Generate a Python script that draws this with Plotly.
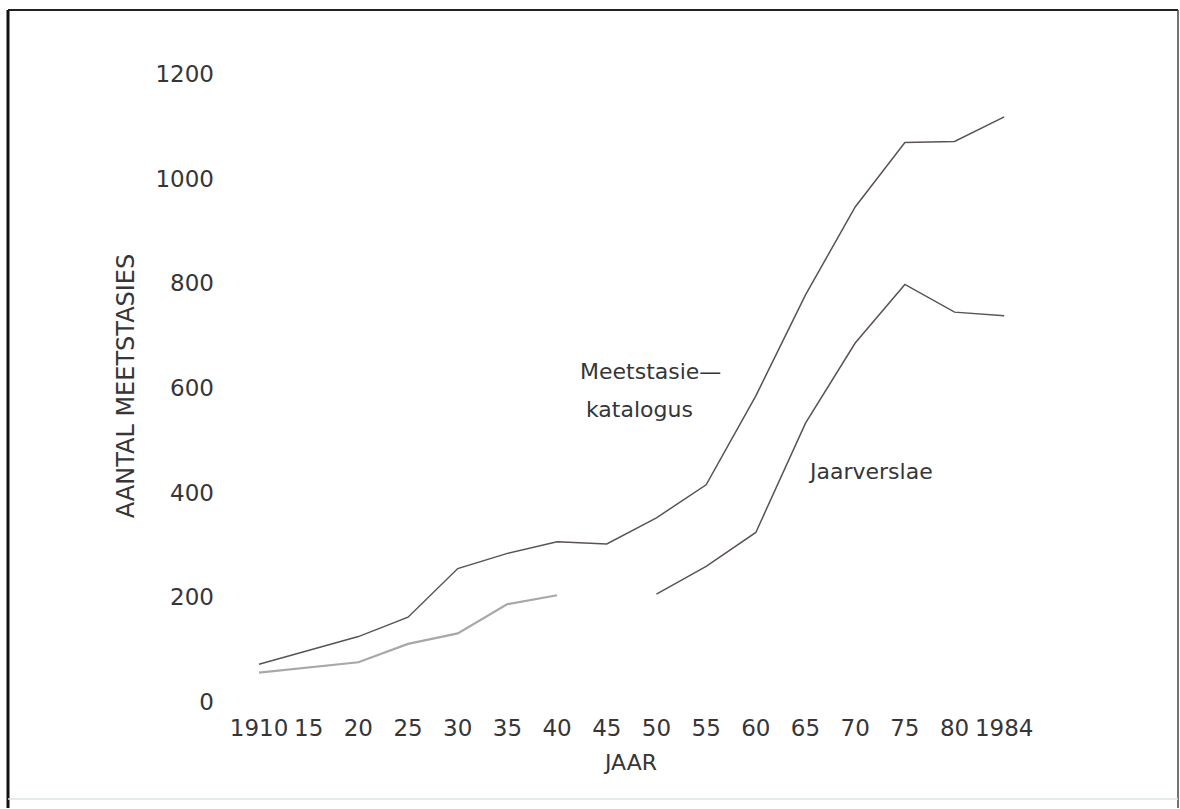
import plotly.graph_objects as go

# Year categories as printed along the horizontal axis
jaar = ["1910", "15", "20", "25", "30", "35", "40", "45",
        "50", "55", "60", "65", "70", "75", "80", "1984"]

# Number of gauging stations per source
meetstasie_katalogus = [72, 98, 125, 162, 255, 284, 306, 302,
                        352, 415, 585, 778, 946, 1069, 1071, 1118]
jaarverslae = [56, 66, 76, 111, 131, 187, 204, None,
               206, 259, 324, 533, 686, 798, 745, 738]

y_ticks = [0, 200, 400, 600, 800, 1000, 1200]

FONT = "DejaVu Sans"
INK = "#363636"
LINE = "#5a5257"

W, H = 1180, 809
L, R, T, B = 222, 140, 60, 97
PW, PH = W - L - R, H - T - B


def px(x):
    return (x - L) / PW


def py(y):
    return (H - B - y) / PH


fig = go.Figure()

fig.add_trace(go.Scatter(
    x=jaar, y=meetstasie_katalogus, mode="lines",
    line=dict(color=LINE, width=1.5), name="Meetstasie-katalogus",
))

# Annual reports: the early stretch is printed faint, the later one dark
split = jaar.index("45")
fig.add_trace(go.Scatter(
    x=jaar[:split], y=jaarverslae[:split], mode="lines",
    line=dict(color="#a8a8a8", width=2.2), name="Jaarverslae",
))
fig.add_trace(go.Scatter(
    x=jaar[split + 1:], y=jaarverslae[split + 1:], mode="lines",
    line=dict(color=LINE, width=1.5), name="Jaarverslae",
))

fig.update_xaxes(
    type="category", categoryorder="array", categoryarray=jaar,
    range=[-0.745, 15.72], showgrid=False, zeroline=False, showline=False,
    ticks="", tickangle=0, tickfont=dict(family=FONT, size=23, color=INK),
    title=dict(text="JAAR", font=dict(family=FONT, size=22, color=INK), standoff=14),
)
fig.update_yaxes(
    range=[-19.1, 1226.8], tickmode="array", tickvals=y_ticks,
    ticktext=[str(v) for v in y_ticks],
    showgrid=False, zeroline=False, showline=False, ticks="",
    ticklabelstandoff=7,
    tickfont=dict(family=FONT, size=23, color=INK),
    title=dict(text="AANTAL MEETSTASIES",
               font=dict(family=FONT, size=24, color=INK), standoff=14),
)

fig.add_annotation(x=px(578), y=py(371), xref="paper", yref="paper",
                   text="Meetstasie—", showarrow=False, xanchor="left",
                   yanchor="middle", font=dict(family=FONT, size=22, color=INK))
fig.add_annotation(x=px(584), y=py(409), xref="paper", yref="paper",
                   text="katalogus", showarrow=False, xanchor="left",
                   yanchor="middle", font=dict(family=FONT, size=22, color=INK))
fig.add_annotation(x=px(806), y=py(471), xref="paper", yref="paper",
                   text="Jaarverslae", showarrow=False, xanchor="left",
                   yanchor="middle", font=dict(family=FONT, size=22, color=INK))

# Frame around the figure
frame = [
    (8, 10, 8, 808, "#111111", 3),
    (8, 10, 1178, 10, "#222222", 2),
    (1178, 10, 1178, 808, "#444444", 1.5),
    (8, 799, 1178, 799, "#dde5e3", 1.5),
]
for x0, y0, x1, y1, c, w in frame:
    fig.add_shape(type="line", xref="paper", yref="paper",
                  x0=px(x0), y0=py(y0), x1=px(x1), y1=py(y1),
                  line=dict(color=c, width=w))

fig.update_layout(
    width=W, height=H, autosize=False,
    margin=dict(l=L, r=R, t=T, b=B),
    paper_bgcolor="white", plot_bgcolor="white",
    showlegend=False,
)

fig.write_html("out.html")
